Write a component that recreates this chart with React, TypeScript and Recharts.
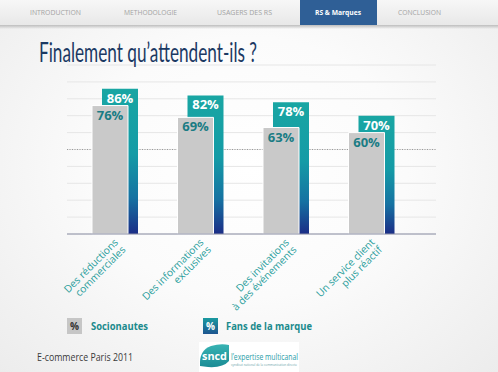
import React from 'react';
import { BarChart, Bar, XAxis, YAxis, CartesianGrid, LabelList } from 'recharts';

const categories = [
  'Des réductions\ncommerciales',
  'Des informations\nexclusives',
  'Des invitations\nà des événements',
  'Un service client\nplus réactif',
];
const socionautes = [76, 69, 63, 60];
const fansMarque = [86, 82, 78, 70];
const yTicks = [0, 10, 20, 30, 40, 50, 60, 70, 80, 90, 100];
const navTabs = ['INTRODUCTION', 'METHODOLOGIE', 'USAGERS DES RS', 'RS & Marques', 'CONCLUSION'];
const activeTab = 'RS & Marques';
const legendNames = ['Socionautes', 'Fans de la marque'];

const data = categories.map((name, i) => ({
  name,
  socionautes: socionautes[i],
  fans: fansMarque[i],
}));

const FONT = "'Open Sans', 'DejaVu Sans', sans-serif";
const TEAL_TEXT = '#1a8a8c';

// layout of the header tabs: [center x, text width]
const tabLayout: Array<[number, number]> = [
  [55.5, 51],
  [150.5, 53],
  [244.5, 55],
  [338, 46],
  [419.5, 43],
];

function CategoryTick(props: any) {
  const { x, y, payload } = props;
  const lines = String(payload.value).split('\n');
  return (
    <g transform={`translate(${x + 9},${y + 1})`}>
      <text transform="rotate(-45)" textAnchor="end" fill="#2a9e9c" fontSize={10.2} fontFamily={FONT}>
        {lines.map((l, i) => (
          <tspan key={i} x={0} dy={i === 0 ? 0 : 10.5}>
            {l}
          </tspan>
        ))}
      </text>
    </g>
  );
}

const valueLabel = (fill: string) => (props: any) => {
  const { x, y, width, value } = props;
  return (
    <text
      x={Number(x) + Number(width) / 2}
      y={Number(y) + 14}
      textAnchor="middle"
      fill={fill}
      fontSize={13}
      fontWeight={700}
      fontFamily={FONT}
    >
      {value}%
    </text>
  );
};

export default function App() {
  return (
    <div
      style={{
        position: 'absolute',
        left: 0,
        top: 0,
        width: 498,
        height: 372,
        overflow: 'hidden',
        background: 'radial-gradient(ellipse at 50% 45%, #ffffff 0%, #fbfbfb 45%, #ececec 100%)',
      }}
    >
      <div style={{ position: 'absolute', left: 0, top: 0 }}>
        <BarChart width={498} height={372} data={data} margin={{ top: 65, right: 62, bottom: 108, left: 67 }}>
          <defs>
            <linearGradient id="fansGrad" x1="0" y1="0" x2="0" y2="1">
              <stop offset="0%" stopColor="#19a6a3" />
              <stop offset="45%" stopColor="#149ba6" />
              <stop offset="75%" stopColor="#1672a2" />
              <stop offset="100%" stopColor="#1b2d86" />
            </linearGradient>
          </defs>
          <CartesianGrid vertical={false} stroke="#e6e6e6" />
          <CartesianGrid vertical={false} horizontalValues={[50]} stroke="#9a9a9a" strokeDasharray="1 1.5" />
          <YAxis hide domain={[0, 100]} ticks={yTicks} interval={0} />
          <XAxis
            dataKey="name"
            padding={{ left: 0, right: 27 }}
            tickLine={false}
            axisLine={{ stroke: '#8c90a6' }}
            tick={<CategoryTick />}
            interval={0}
          />
          <XAxis xAxisId="b" dataKey="name" hide padding={{ left: 10, right: 17 }} />
          <Bar xAxisId="b" dataKey="fans" fill="url(#fansGrad)" barSize={36} isAnimationActive={false}>
            <LabelList dataKey="fans" content={valueLabel('#ffffff')} />
          </Bar>
          <Bar dataKey="socionautes" fill="#c9c9c9" stroke="#ffffff" strokeWidth={1} barSize={36} isAnimationActive={false}>
            <LabelList dataKey="socionautes" content={valueLabel('#1a7c84')} />
          </Bar>
        </BarChart>
      </div>

      <svg width={498} height={372} style={{ position: 'absolute', left: 0, top: 0, pointerEvents: 'none' }}>
        <defs>
          <linearGradient id="navGrad" x1="0" y1="0" x2="0" y2="1">
            <stop offset="0%" stopColor="#f7f7f7" />
            <stop offset="100%" stopColor="#e8e8e8" />
          </linearGradient>
          <linearGradient id="navShadow" x1="0" y1="0" x2="0" y2="1">
            <stop offset="0%" stopColor="#bdbdbd" />
            <stop offset="100%" stopColor="#bdbdbd" stopOpacity={0} />
          </linearGradient>
          <linearGradient id="legendGrad" x1="0" y1="0" x2="0" y2="1">
            <stop offset="0%" stopColor="#1a9aa0" />
            <stop offset="100%" stopColor="#1d5590" />
          </linearGradient>
          <linearGradient id="logoGrad" x1="0" y1="0" x2="0" y2="1">
            <stop offset="0%" stopColor="#37b3b3" />
            <stop offset="100%" stopColor="#1b8c95" />
          </linearGradient>
        </defs>

        {/* header tabs */}
        <rect x={0} y={0} width={498} height={25} fill="url(#navGrad)" />
        <rect x={0} y={25} width={498} height={4} fill="url(#navShadow)" />
        {navTabs.map((t, i) => {
          const [cx, w] = tabLayout[i];
          const active = t === activeTab;
          return (
            <g key={t}>
              {active && <rect x={300} y={0} width={77} height={25} fill="#2f5f96" />}
              <text
                x={cx - w / 2}
                y={15}
                textLength={w}
                lengthAdjust="spacingAndGlyphs"
                fontSize={7.5}
                fontWeight={active ? 700 : 400}
                fill={active ? '#ffffff' : '#a3a3a3'}
                fontFamily={FONT}
              >
                {t}
              </text>
            </g>
          );
        })}

        {/* title */}
        <text
          x={39}
          y={62}
          textLength={218}
          lengthAdjust="spacingAndGlyphs"
          fontSize={26}
          fontWeight={400}
          fill="#1b3963"
          fontFamily="Lato, 'Open Sans', sans-serif"
        >
          Finalement qu’attendent-ils ?
        </text>

        {/* legend */}
        <rect x={67} y={318} width={15} height={16} fill="#c6c6c6" />
        <text x={74.5} y={330} textAnchor="middle" fontSize={10} fontWeight={700} fill="#333" fontFamily={FONT}>
          %
        </text>
        <text x={91} y={330} textLength={57} lengthAdjust="spacingAndGlyphs" fontSize={11} fontWeight={700} fill={TEAL_TEXT} fontFamily={FONT}>
          {legendNames[0]}
        </text>
        <rect x={203} y={318} width={15} height={16} fill="url(#legendGrad)" />
        <text x={210.5} y={330} textAnchor="middle" fontSize={10} fontWeight={700} fill="#ffffff" fontFamily={FONT}>
          %
        </text>
        <text x={226} y={330} textLength={86} lengthAdjust="spacingAndGlyphs" fontSize={11} fontWeight={700} fill={TEAL_TEXT} fontFamily={FONT}>
          {legendNames[1]}
        </text>

        {/* footer */}
        <text x={37} y={361} textLength={96} lengthAdjust="spacingAndGlyphs" fontSize={10.5} fill="#3a3a3a" fontFamily={FONT}>
          E-commerce Paris 2011
        </text>
        <rect x={199} y={342} width={100} height={30} fill="#ffffff" />
        <path d="M200,366 Q199,350 211,346 Q221,343 229,345 L229,361 Q223,368 208,367 Z" fill="url(#logoGrad)" />
        <text x={202} y={360} textLength={25} lengthAdjust="spacingAndGlyphs" fontSize={10} fontWeight={700} fill="#ffffff" fontFamily={FONT}>
          sncd
        </text>
        <text x={231} y={360} textLength={67} lengthAdjust="spacingAndGlyphs" fontSize={8.5} fill="#2a9ea8" fontFamily={FONT}>
          l’expertise multicanal
        </text>
        <text x={231} y={366} textLength={66} lengthAdjust="spacingAndGlyphs" fontSize={3} fill="#6aa6aa" fontFamily={FONT}>
          syndicat national de la communication directe
        </text>
      </svg>
    </div>
  );
}
